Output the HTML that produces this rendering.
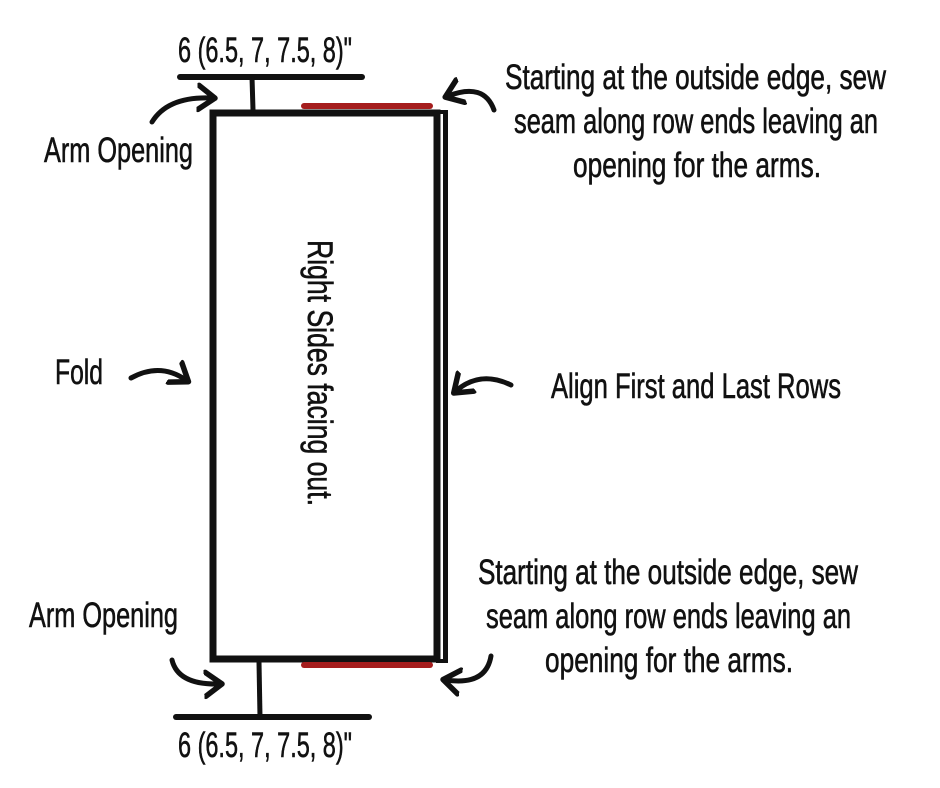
<!DOCTYPE html>
<html><head><meta charset="utf-8"><style>
html,body{margin:0;padding:0;background:#fff;}
svg{display:block;}
text{font-family:"Liberation Sans Narrow","Liberation Sans",sans-serif;fill:#111;font-size:35px;stroke:#111;stroke-width:0.6px;}
</style></head><body>
<svg width="940" height="788" viewBox="0 0 940 788" xmlns="http://www.w3.org/2000/svg">
<defs>
<marker id="ah" markerWidth="6" markerHeight="6" refX="3" refY="3" orient="auto" markerUnits="strokeWidth">
<path d="M0.3,0.6 L3.6,3 L0.3,5.4" fill="none" stroke="#111" stroke-width="1.1" stroke-linecap="round" stroke-linejoin="round"/>
</marker>
</defs>
<rect x="213" y="113" width="224" height="546" fill="none" stroke="#111" stroke-width="7"/>
<line x1="445.5" y1="112" x2="445.5" y2="663" stroke="#111" stroke-width="5"/>
<line x1="436" y1="112" x2="448" y2="112" stroke="#111" stroke-width="4"/>
<line x1="436" y1="661" x2="448" y2="661" stroke="#111" stroke-width="4"/>
<line x1="304" y1="106" x2="430" y2="106" stroke="#a51d1d" stroke-width="6" stroke-linecap="round"/>
<line x1="304" y1="665" x2="430" y2="665" stroke="#a51d1d" stroke-width="6" stroke-linecap="round"/>
<line x1="180" y1="77" x2="362" y2="77" stroke="#111" stroke-width="6" stroke-linecap="round"/>
<line x1="252" y1="77" x2="253" y2="110" stroke="#111" stroke-width="5"/>
<line x1="176" y1="717" x2="369" y2="717" stroke="#111" stroke-width="6" stroke-linecap="round"/>
<line x1="259" y1="662" x2="260" y2="717" stroke="#111" stroke-width="5"/>
<g fill="none" stroke="#111" stroke-width="5" stroke-linecap="round" marker-end="url(#ah)">
<path d="M152,122 Q168,96 212,98"/>
<path d="M494,110 Q484,82 448,96"/>
<path d="M131,378 Q160,362 186,380"/>
<path d="M511,385 Q480,370 456,391"/>
<path d="M172,660 Q178,685 219,684"/>
<path d="M491,656 Q486,686 446,680"/>
</g>
<text x="178" y="62" textLength="174" lengthAdjust="spacingAndGlyphs">6 (6.5, 7, 7.5, 8)"</text>
<text x="178" y="757" textLength="174" lengthAdjust="spacingAndGlyphs">6 (6.5, 7, 7.5, 8)"</text>
<text x="44" y="162" textLength="149" lengthAdjust="spacingAndGlyphs">Arm Opening</text>
<text x="29" y="627" textLength="149" lengthAdjust="spacingAndGlyphs">Arm Opening</text>
<text x="55" y="384" textLength="48" lengthAdjust="spacingAndGlyphs">Fold</text>
<text x="551" y="398" textLength="290" lengthAdjust="spacingAndGlyphs">Align First and Last Rows</text>
<text x="505" y="89" textLength="381" lengthAdjust="spacingAndGlyphs">Starting at the outside edge, sew</text>
<text x="514" y="133" textLength="364" lengthAdjust="spacingAndGlyphs">seam along row ends leaving an</text>
<text x="573" y="177" textLength="248" lengthAdjust="spacingAndGlyphs">opening for the arms.</text>
<text x="478" y="584" textLength="380" lengthAdjust="spacingAndGlyphs">Starting at the outside edge, sew</text>
<text x="486" y="628" textLength="365" lengthAdjust="spacingAndGlyphs">seam along row ends leaving an</text>
<text x="545" y="672" textLength="248" lengthAdjust="spacingAndGlyphs">opening for the arms.</text>
<text transform="translate(308,240) rotate(90)" x="0" y="0" textLength="266" lengthAdjust="spacingAndGlyphs">Right Sides facing out.</text>
</svg>
</body></html>
